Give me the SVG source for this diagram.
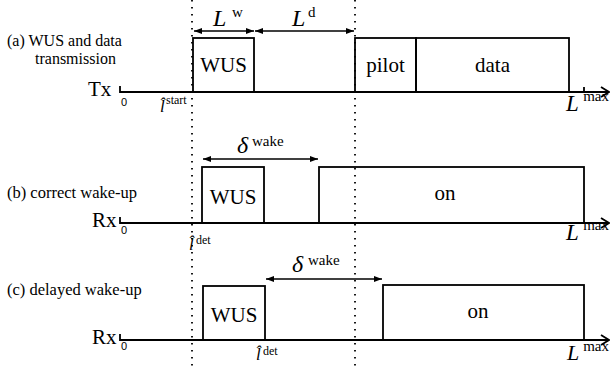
<svg xmlns="http://www.w3.org/2000/svg" width="610" height="366" viewBox="0 0 610 366">
<defs>
<marker id="ah" viewBox="0 0 8 6" refX="8" refY="3" markerWidth="8" markerHeight="6" markerUnits="userSpaceOnUse" orient="auto-start-reverse">
<path d="M0,0 L8,3 L0,6 Z" fill="#000"/>
</marker>
<style>
.box{fill:none;stroke:#000;stroke-width:1.8}
.axis{fill:none;stroke:#000;stroke-width:1.8}
.dot{stroke:#000;stroke-width:1.8;stroke-dasharray:1.6 5.4;fill:none}
.arr{stroke:#000;stroke-width:1.6;fill:none;marker-start:url(#ah);marker-end:url(#ah)}
</style>
</defs>

<g id="guides">
<line class="dot" x1="192" y1="0" x2="192" y2="366"/>
<line class="dot" x1="355" y1="0" x2="355" y2="366"/>
</g>

<g id="row-a">
<text font-family="Liberation Serif" font-size="16" x="7" y="46">(a) WUS and data</text>
<text font-family="Liberation Serif" font-size="16" x="35" y="64">transmission</text>
<text font-family="Liberation Serif" font-size="21" x="88" y="96">Tx</text>
<path class="axis" d="M120,86 V92 H609 M601,87 L609,92 L601,97 M584,87 V92"/>
<text font-family="Liberation Sans" font-size="11" x="121" y="106">0</text>
<text font-family="Liberation Serif" font-size="17" font-style="italic" x="160" y="112">l̂</text>
<text font-family="Liberation Serif" font-size="12" x="166" y="104">start</text>
<text font-family="Liberation Serif" font-size="23" font-style="italic" x="566" y="111">L</text>
<text font-family="Liberation Serif" font-size="15" x="609" y="101" text-anchor="end">max</text>
</g>

<g id="wus-a">
<rect class="box" x="193" y="38" width="61" height="54"/>
<text font-family="Liberation Serif" font-size="21" x="223.5" y="72" text-anchor="middle">WUS</text>
</g>
<g id="pilot-a">
<rect class="box" x="355" y="38" width="61" height="54"/>
<text font-family="Liberation Serif" font-size="21" x="385.5" y="72" text-anchor="middle">pilot</text>
</g>
<g id="data-a">
<rect class="box" x="416" y="38" width="153" height="54"/>
<text font-family="Liberation Serif" font-size="21" x="492.5" y="72" text-anchor="middle">data</text>
</g>

<g id="row-b">
<text font-family="Liberation Serif" font-size="16.5" x="7" y="198">(b) correct wake-up</text>
<text font-family="Liberation Serif" font-size="21" x="92" y="227">Rx</text>
<path class="axis" d="M120,217 V223 H609 M601,218 L609,223 L601,228"/>
<text font-family="Liberation Sans" font-size="11" x="121" y="234">0</text>
<text font-family="Liberation Serif" font-size="17" font-style="italic" x="189" y="250">l̂</text>
<text font-family="Liberation Serif" font-size="12" x="196" y="244">det</text>
<text font-family="Liberation Serif" font-size="23" font-style="italic" x="566" y="240">L</text>
<text font-family="Liberation Serif" font-size="15" x="609" y="230" text-anchor="end">max</text>
</g>
<g id="wus-b">
<rect class="box" x="202" y="167" width="62" height="56"/>
<text font-family="Liberation Serif" font-size="21" x="233" y="204" text-anchor="middle">WUS</text>
</g>
<g id="on-b">
<rect class="box" x="319" y="167" width="265" height="56"/>
<text font-family="Liberation Serif" font-size="21" x="445" y="200" text-anchor="middle">on</text>
</g>

<g id="row-c">
<text font-family="Liberation Serif" font-size="16.5" x="7" y="295">(c) delayed wake-up</text>
<text font-family="Liberation Serif" font-size="21" x="92" y="344">Rx</text>
<path class="axis" d="M120,334 V340 H609 M601,335 L609,340 L601,345"/>
<text font-family="Liberation Sans" font-size="11" x="121" y="350">0</text>
<text font-family="Liberation Serif" font-size="17" font-style="italic" x="256" y="360">l̂</text>
<text font-family="Liberation Serif" font-size="12" x="263" y="355">det</text>
<text font-family="Liberation Serif" font-size="22" font-style="italic" x="567" y="360">L</text>
<text font-family="Liberation Serif" font-size="15" x="609" y="351" text-anchor="end">max</text>
</g>
<g id="wus-c">
<rect class="box" x="203" y="286" width="62" height="54"/>
<text font-family="Liberation Serif" font-size="21" x="234" y="322" text-anchor="middle">WUS</text>
</g>
<g id="on-c">
<rect class="box" x="383" y="285" width="201" height="55"/>
<text font-family="Liberation Serif" font-size="21" x="478" y="318" text-anchor="middle">on</text>
</g>

<g id="connectors">
<line class="arr" x1="194" y1="31" x2="254" y2="31"/>
<line class="arr" x1="255" y1="31" x2="354" y2="31"/>
<line class="arr" x1="203" y1="159" x2="318" y2="159"/>
<line class="arr" x1="266" y1="279" x2="382" y2="279"/>
<text font-family="Liberation Serif" font-size="24" font-style="italic" x="213" y="26">L</text>
<text font-family="Liberation Serif" font-size="15" x="232" y="17">w</text>
<text font-family="Liberation Serif" font-size="24" font-style="italic" x="292" y="26">L</text>
<text font-family="Liberation Serif" font-size="15" x="308" y="17">d</text>
<text font-family="Liberation Serif" font-size="24" font-style="italic" x="237" y="153">δ</text>
<text font-family="Liberation Serif" font-size="15" x="252" y="146">wake</text>
<text font-family="Liberation Serif" font-size="24" font-style="italic" x="292" y="272">δ</text>
<text font-family="Liberation Serif" font-size="15" x="308" y="265">wake</text>
</g>
</svg>
